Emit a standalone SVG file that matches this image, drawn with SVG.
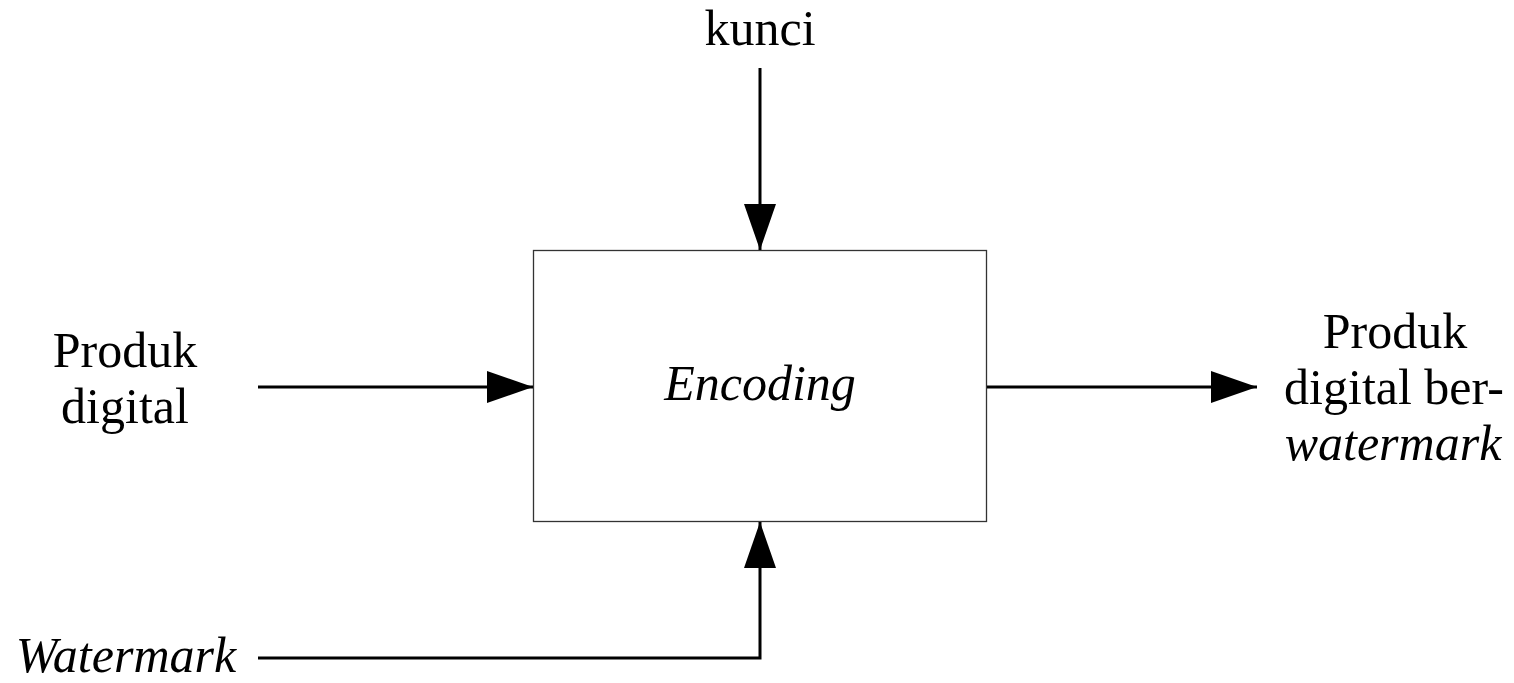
<svg xmlns="http://www.w3.org/2000/svg" width="1514" height="683" viewBox="0 0 1514 683">
  <style>
    .lbl { font-family: "Liberation Serif", "Times New Roman", serif; font-size: 50px; fill: #000; }
    .it { font-style: italic; }
    .wire { fill: none; stroke: #000; stroke-width: 3; }
    .box { fill: #fff; stroke: #333; stroke-width: 1.3; }
  </style>
  <defs>
    <marker id="head" viewBox="0 0 46 32" refX="46" refY="16" markerWidth="46" markerHeight="32" markerUnits="userSpaceOnUse" orient="auto">
      <path d="M0,0 L46,16 L0,32 Z" fill="#000"/>
    </marker>
  </defs>
  <rect width="1514" height="683" fill="#fff"/>

  <g id="encoder">
    <rect class="box" x="533.5" y="250.5" width="453" height="271"/>
    <text class="lbl it" x="760" y="400" text-anchor="middle">Encoding</text>
  </g>

  <g id="key">
    <text class="lbl" x="760" y="45" text-anchor="middle">kunci</text>
  </g>

  <g id="input">
    <text class="lbl" x="125" y="367" text-anchor="middle">Produk</text>
    <text class="lbl" x="125" y="423" text-anchor="middle">digital</text>
  </g>

  <g id="mark">
    <text class="lbl it" x="126" y="672" text-anchor="middle">Watermark</text>
  </g>

  <g id="output">
    <text class="lbl" x="1395" y="348" text-anchor="middle">Produk</text>
    <text class="lbl" x="1394" y="404" text-anchor="middle">digital ber-</text>
    <text class="lbl it" x="1393" y="460" text-anchor="middle">watermark</text>
  </g>

  <g id="connectors">
    <path class="wire" d="M760,68 V250" marker-end="url(#head)"/>
    <path class="wire" d="M258,387 H533" marker-end="url(#head)"/>
    <path class="wire" d="M987,387 H1257" marker-end="url(#head)"/>
    <path class="wire" d="M258,658 H760 V522" marker-end="url(#head)"/>
  </g>
</svg>
